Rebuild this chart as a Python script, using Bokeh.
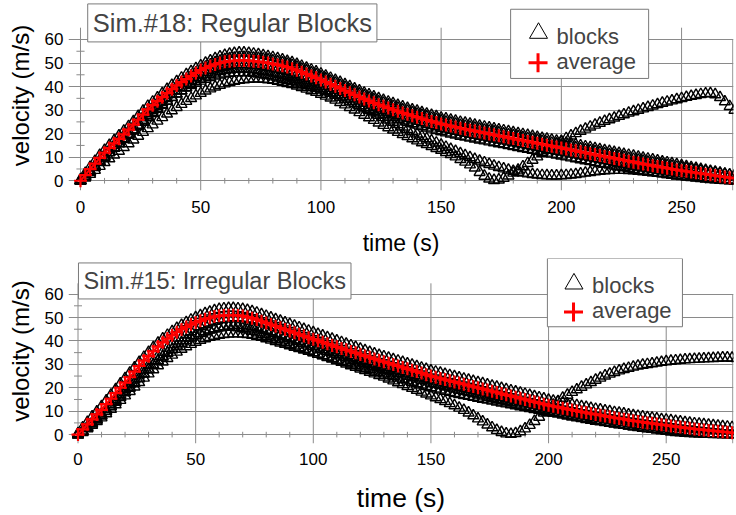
from bokeh.plotting import figure
from bokeh.layouts import column
from bokeh.models import Range1d, FixedTicker, Label, BoxAnnotation
from bokeh.embed import file_html
from bokeh.resources import INLINE

FONT = "Liberation Sans"
GRID = "#8a8a8a"

# ---------------- data: top panel (Sim.#18, regular blocks) ----------------
t_top = list(range(0, 273, 2))

avg_top = [
    0, 2.4, 4.9, 7.3, 9.7, 11.9, 13.9, 15.9, 17.8, 19.7,
    21.7, 23.8, 25.9, 28.1, 30.3, 32.1, 33.8, 35.5, 37.2, 38.9,
    40.5, 41.9, 43.2, 44.5, 45.8, 47.0, 47.9, 48.7, 49.4, 50.0,
    50.5, 50.8, 51.0, 51.1, 51.1, 51.0, 50.8, 50.6, 50.3, 50.0,
    49.6, 49.2, 48.8, 48.3, 47.6, 46.9, 46.1, 45.3, 44.5, 43.7,
    42.8, 41.9, 41.0, 40.1, 39.2, 38.3, 37.4, 36.5, 35.6, 34.7,
    33.9, 33.1, 32.3, 31.6, 30.9, 30.2, 29.5, 28.8, 28.2, 27.6,
    27.0, 26.4, 25.8, 25.2, 24.7, 24.1, 23.7, 23.2, 22.8, 22.3,
    21.9, 21.5, 21.1, 20.7, 20.3, 19.9, 19.5, 19.1, 18.7, 18.3,
    17.9, 17.5, 17.1, 16.7, 16.3, 15.9, 15.5, 15.1, 14.7, 14.3,
    13.9, 13.5, 13.1, 12.7, 12.3, 11.9, 11.5, 11.1, 10.7, 10.3,
    9.9, 9.5, 9.1, 8.7, 8.3, 7.9, 7.5, 7.1, 6.8, 6.4,
    6.0, 5.7, 5.3, 5.0, 4.6, 4.3, 4.0, 3.7, 3.4, 3.1,
    2.8, 2.5, 2.2, 1.9, 1.6, 1.3, 1.0]

blk_top_u = [
    0.5, 3.2, 5.8, 8.3, 10.8, 13.0, 15.1, 17.1, 19.1, 21.1,
    23.1, 25.2, 27.4, 29.6, 31.7, 33.5, 35.3, 37.1, 38.9, 40.6,
    42.2, 43.7, 45.1, 46.4, 47.7, 48.9, 50.0, 51.0, 51.9, 52.7,
    53.3, 53.8, 54.2, 54.4, 54.4, 54.2, 53.9, 53.6, 53.2, 52.8,
    52.4, 51.9, 51.4, 50.8, 50.2, 49.5, 48.7, 47.9, 47.1, 46.3,
    45.4, 44.5, 43.6, 42.7, 41.8, 40.9, 40.0, 39.1, 38.2, 37.3,
    36.5, 35.7, 34.9, 34.2, 33.5, 32.8, 32.1, 31.4, 30.8, 30.2,
    29.6, 29.0, 28.4, 27.8, 27.3, 26.7, 26.3, 25.8, 25.4, 24.9,
    24.5, 24.1, 23.7, 23.3, 22.9, 22.5, 22.1, 21.7, 21.3, 20.9,
    20.5, 20.1, 19.7, 19.3, 18.9, 18.5, 18.1, 17.7, 17.3, 16.9,
    16.5, 16.1, 15.7, 15.3, 14.9, 14.5, 14.1, 13.7, 13.3, 12.9,
    12.5, 12.1, 11.7, 11.3, 10.9, 10.5, 10.1, 9.7, 9.3, 8.9,
    8.5, 8.1, 7.7, 7.3, 6.9, 6.5, 6.1, 5.7, 5.3, 4.9,
    4.5, 4.1, 3.7, 3.3, 2.9, 2.5, 2.1]

blk_top_m = [
    0, 2.0, 4.2, 6.5, 8.8, 11.0, 13.1, 15.1, 17.1, 19.1,
    21.0, 23.0, 25.0, 27.0, 29.0, 31.0, 32.9, 34.7, 36.5, 38.3,
    40.0, 41.6, 43.1, 44.5, 45.9, 47.2, 48.3, 49.3, 50.2, 50.9,
    51.5, 51.9, 52.2, 52.4, 52.5, 52.4, 52.2, 52.0, 51.7, 51.4,
    51.0, 50.6, 50.1, 49.6, 49.0, 48.3, 47.5, 46.7, 45.9, 45.1,
    44.2, 43.3, 42.4, 41.5, 40.6, 39.7, 38.8, 37.9, 37.0, 36.1,
    35.3, 34.5, 33.7, 33.0, 32.3, 31.6, 30.9, 30.2, 29.6, 29.0,
    28.4, 27.8, 27.2, 26.6, 26.1, 25.5, 25.0, 24.5, 24.1, 23.6,
    23.2, 22.8, 22.4, 22.0, 21.6, 21.2, 20.8, 20.4, 20.0, 19.6,
    19.2, 18.8, 18.4, 18.0, 17.6, 17.2, 16.8, 16.4, 16.0, 15.6,
    15.2, 14.8, 14.4, 14.0, 13.6, 13.2, 12.8, 12.4, 12.0, 11.6,
    11.2, 10.8, 10.4, 10.0, 9.6, 9.2, 8.8, 8.4, 8.0, 7.6,
    7.2, 6.9, 6.5, 6.2, 5.8, 5.5, 5.2, 4.9, 4.6, 4.3,
    4.0, 3.7, 3.4, 3.1, 2.8, 2.5, 2.2]

blk_top_n = [
    0, 1.6, 3.6, 5.7, 7.9, 10.0, 12.0, 14.0, 15.9, 17.8,
    19.7, 21.7, 23.7, 25.8, 27.9, 29.8, 31.6, 33.3, 35.0, 36.7,
    38.3, 39.8, 41.2, 42.5, 43.8, 45.0, 46.0, 46.9, 47.6, 48.2,
    48.7, 49.1, 49.3, 49.4, 49.4, 49.3, 49.1, 48.9, 48.6, 48.3,
    47.9, 47.5, 47.0, 46.5, 45.9, 45.2, 44.4, 43.6, 42.8, 42.0,
    41.1, 40.2, 39.3, 38.4, 37.5, 36.6, 35.7, 34.8, 33.9, 33.0,
    32.2, 31.4, 30.6, 29.9, 29.2, 28.5, 27.8, 27.1, 26.5, 25.9,
    25.3, 24.7, 24.1, 23.5, 23.0, 22.4, 22.0, 21.5, 21.1, 20.6,
    20.2, 19.8, 19.4, 19.0, 18.6, 18.2, 17.8, 17.4, 17.0, 16.6,
    16.2, 15.8, 15.4, 15.0, 14.6, 14.2, 13.8, 13.4, 13.0, 12.6,
    12.3, 11.9, 11.5, 11.1, 10.7, 10.3, 9.9, 9.5, 9.1, 8.7,
    8.3, 7.9, 7.5, 7.1, 6.7, 6.3, 5.9, 5.5, 5.2, 4.8,
    4.5, 4.2, 3.8, 3.5, 3.2, 2.9, 2.6, 2.3, 2.0, 1.8,
    1.5, 1.3, 1.0, 0.8, 0.6, 0.4, 0.2]

blk_top_l = [
    0, 1.8, 3.9, 6.0, 8.1, 10.1, 12.0, 13.9, 15.8, 17.6,
    19.4, 21.2, 23.0, 24.9, 26.8, 28.6, 30.4, 32.1, 33.8, 35.4,
    36.9, 38.3, 39.6, 40.9, 42.1, 43.2, 44.2, 45.1, 45.8, 46.4,
    46.9, 47.2, 47.4, 47.5, 47.5, 47.4, 47.2, 46.9, 46.6, 46.3,
    45.9, 45.4, 44.9, 44.4, 43.8, 43.1, 42.4, 41.6, 40.8, 40.0,
    39.2, 38.3, 37.4, 36.5, 35.6, 34.7, 33.8, 32.9, 32.0, 31.2,
    30.4, 29.6, 28.9, 28.2, 27.5, 26.8, 26.1, 25.5, 24.9, 24.3,
    23.7, 23.1, 22.5, 22.0, 21.4, 20.9, 20.4, 19.9, 19.5, 19.0,
    18.6, 18.2, 17.8, 17.4, 17.0, 16.6, 16.2, 15.8, 15.4, 15.0,
    14.6, 14.2, 13.8, 13.4, 13.0, 12.6, 12.2, 11.8, 11.4, 11.0,
    10.6, 10.2, 9.8, 9.4, 9.0, 8.6, 8.2, 7.8, 7.4, 7.1,
    6.7, 6.3, 5.9, 5.6, 5.2, 4.9, 4.5, 4.2, 3.9, 3.6,
    3.3, 3.0, 2.7, 2.4, 2.1, 1.9, 1.6, 1.4, 1.2, 1.0,
    0.8, 0.6, 0.5, 0.3, 0.2, 0.1, 0.0]

blk_top_d1 = [
    0, 1.2, 2.8, 4.5, 6.2, 7.8, 9.4, 11.0, 12.6, 14.2,
    15.8, 17.4, 19.0, 20.6, 22.2, 23.8, 25.4, 26.9, 28.4, 29.8,
    31.2, 32.5, 33.8, 35.0, 36.1, 37.2, 38.2, 39.1, 39.9, 40.6,
    41.2, 41.8, 42.3, 42.7, 43.0, 43.2, 43.3, 43.3, 43.2, 43.0,
    42.7, 42.3, 41.9, 41.4, 40.9, 40.3, 39.7, 39.0, 38.3, 37.6,
    36.8, 36.0, 35.2, 34.3, 33.3, 32.3, 31.2, 30.1, 29.0, 27.9,
    26.8, 25.7, 24.6, 23.6, 22.6, 21.6, 20.6, 19.7, 18.8, 17.9,
    17.0, 16.2, 15.4, 14.6, 13.8, 13.0, 12.1, 11.2, 10.2, 9.1,
    8.0, 6.8, 5.5, 3.6, 2.0, 0.8, 0.2, 0.4, 1.1, 2.1,
    3.3, 4.6, 6.0, 7.4, 8.8, 10.2, 11.6, 13.0, 14.3, 15.6,
    16.8, 18.0, 19.1, 20.1, 21.1, 22.0, 22.9, 23.7, 24.5, 25.3,
    26.0, 26.7, 27.4, 28.1, 28.8, 29.4, 30.0, 30.6, 31.2, 31.8,
    32.4, 33.0, 33.5, 34.0, 34.5, 35.0, 35.5, 35.9, 36.3, 36.7,
    37.0, 37.1, 36.6, 35.4, 33.6, 31.6, 30.0]

blk_top_d2 = [
    0, 2.0, 4.0, 6.1, 8.2, 10.2, 12.1, 14.0, 15.9, 17.8,
    19.7, 21.6, 23.5, 25.4, 27.2, 29.0, 30.7, 32.4, 34.0, 35.5,
    36.9, 38.2, 39.4, 40.5, 41.5, 42.4, 43.2, 43.9, 44.5, 45.0,
    45.4, 45.7, 45.9, 46.0, 46.0, 45.9, 45.7, 45.4, 45.1, 44.7,
    44.2, 43.7, 43.2, 42.7, 42.2, 41.6, 41.0, 40.4, 39.8, 39.2,
    38.6, 37.9, 37.2, 36.4, 35.6, 34.7, 33.8, 32.9, 31.9, 30.9,
    29.9, 28.9, 27.9, 26.9, 25.9, 24.9, 23.9, 22.9, 21.9, 20.9,
    19.9, 18.9, 17.9, 17.0, 16.1, 15.2, 14.3, 13.4, 12.5, 11.6,
    10.7, 9.9, 9.1, 8.4, 7.7, 7.0, 6.3, 5.7, 5.1, 4.6,
    4.1, 3.7, 3.3, 3.0, 2.7, 2.5, 2.3, 2.2, 2.1, 2.1,
    2.2, 2.3, 2.5, 2.7, 3.0, 3.3, 3.6, 3.9, 4.1, 4.3,
    4.4, 4.5, 4.5, 4.5, 4.4, 4.3, 4.1, 3.9, 3.7, 3.5,
    3.2, 3.0, 2.7, 2.5, 2.2, 2.0, 1.8, 1.6, 1.4, 1.2,
    1.0, 0.8, 0.6, 0.5, 0.3, 0.2, 0.1]

# ---------------- data: bottom panel (Sim.#15, irregular blocks) ----------------
t_bot = list(range(0, 281, 2))

avg_bot = [
    0, 2.2, 4.4, 6.5, 8.6, 10.6, 13.0, 15.3, 17.7, 20.0,
    22.2, 24.5, 26.9, 29.3, 31.6, 33.5, 35.6, 37.6, 39.4, 41.0,
    42.4, 43.7, 44.9, 46.0, 47.0, 47.9, 48.6, 49.3, 49.9, 50.4,
    50.7, 50.9, 51.0, 51.0, 50.9, 50.6, 50.2, 49.7, 49.1, 48.4,
    47.7, 47.0, 46.3, 45.6, 44.9, 44.2, 43.5, 42.8, 42.1, 41.4,
    40.7, 40.1, 39.4, 38.8, 38.1, 37.5, 36.8, 36.2, 35.5, 34.9,
    34.2, 33.6, 33.0, 32.3, 31.7, 31.1, 30.5, 29.9, 29.3, 28.7,
    28.1, 27.5, 26.9, 26.3, 25.6, 25.0, 24.5, 24.0, 23.5, 23.0,
    22.5, 22.0, 21.5, 21.0, 20.5, 20.0, 19.5, 19.0, 18.5, 18.0,
    17.5, 17.0, 16.5, 16.0, 15.5, 15.0, 14.5, 14.0, 13.5, 13.0,
    12.5, 12.1, 11.7, 11.3, 10.9, 10.5, 10.1, 9.7, 9.4, 9.0,
    8.6, 8.3, 7.9, 7.6, 7.2, 6.9, 6.6, 6.2, 5.9, 5.6,
    5.3, 5.0, 4.8, 4.5, 4.2, 4.0, 3.7, 3.4, 3.2, 2.9,
    2.7, 2.4, 2.2, 2.0, 1.8, 1.6, 1.4, 1.2, 1.0, 0.8,
    0.6]

blk_bot_u = [
    0.5, 3.0, 5.3, 7.6, 9.8, 12.0, 14.5, 16.9, 19.3, 21.7,
    24.0, 26.3, 28.6, 30.9, 33.1, 35.2, 37.2, 39.1, 40.9, 42.5,
    44.0, 45.4, 46.7, 47.9, 49.0, 50.0, 50.9, 51.7, 52.4, 53.0,
    53.5, 53.8, 54.0, 54.0, 53.8, 53.5, 53.1, 52.6, 52.0, 51.3,
    50.6, 49.9, 49.2, 48.5, 47.8, 47.1, 46.4, 45.7, 45.0, 44.3,
    43.6, 42.9, 42.2, 41.5, 40.8, 40.1, 39.4, 38.7, 38.0, 37.3,
    36.6, 35.9, 35.2, 34.5, 33.9, 33.3, 32.7, 32.1, 31.5, 30.9,
    30.3, 29.7, 29.1, 28.5, 27.9, 27.3, 26.8, 26.3, 25.8, 25.3,
    24.8, 24.3, 23.8, 23.3, 22.8, 22.3, 21.8, 21.3, 20.8, 20.3,
    19.8, 19.3, 18.8, 18.3, 17.8, 17.3, 16.8, 16.3, 15.8, 15.3,
    14.8, 14.4, 14.0, 13.6, 13.2, 12.8, 12.4, 12.0, 11.7, 11.3,
    10.9, 10.6, 10.2, 9.9, 9.5, 9.2, 8.9, 8.5, 8.2, 7.9,
    7.6, 7.3, 7.1, 6.8, 6.5, 6.3, 6.0, 5.7, 5.5, 5.2,
    5.0, 4.7, 4.5, 4.3, 4.1, 3.9, 3.7, 3.5, 3.3, 3.1,
    2.9]

blk_bot_m = [
    0, 1.6, 3.4, 5.2, 7.0, 8.8, 10.8, 12.9, 15.0, 17.1,
    19.2, 21.3, 23.4, 25.5, 27.6, 29.6, 31.6, 33.5, 35.3, 37.0,
    38.6, 40.1, 41.5, 42.8, 44.0, 45.1, 46.1, 47.0, 47.8, 48.5,
    49.1, 49.5, 49.8, 50.0, 50.0, 49.8, 49.5, 49.1, 48.6, 48.0,
    47.3, 46.6, 45.8, 45.0, 44.2, 43.4, 42.6, 41.8, 41.0, 40.2,
    39.4, 38.7, 38.0, 37.3, 36.6, 35.9, 35.2, 34.5, 33.8, 33.1,
    32.4, 31.8, 31.2, 30.6, 30.0, 29.4, 28.8, 28.2, 27.6, 27.0,
    26.4, 25.8, 25.2, 24.6, 24.0, 23.5, 23.0, 22.5, 22.0, 21.5,
    21.0, 20.5, 20.0, 19.5, 19.0, 18.5, 18.0, 17.5, 17.0, 16.5,
    16.0, 15.5, 15.0, 14.5, 14.0, 13.5, 13.0, 12.5, 12.0, 11.5,
    11.0, 10.6, 10.2, 9.8, 9.4, 9.0, 8.6, 8.2, 7.9, 7.5,
    7.1, 6.8, 6.4, 6.1, 5.7, 5.4, 5.1, 4.7, 4.4, 4.1,
    3.8, 3.5, 3.3, 3.0, 2.7, 2.5, 2.2, 1.9, 1.7, 1.4,
    1.2, 1.0, 0.8, 0.7, 0.5, 0.4, 0.3, 0.2, 0.1, 0.0,
    0.0]

blk_bot_n = [
    0, 1.3, 2.9, 4.6, 6.3, 8.0, 9.9, 11.9, 13.9, 15.9,
    17.9, 19.9, 21.9, 23.9, 25.9, 27.8, 29.7, 31.5, 33.2, 34.8,
    36.3, 37.7, 39.0, 40.2, 41.3, 42.3, 43.2, 44.0, 44.7, 45.3,
    45.8, 46.2, 46.5, 46.7, 46.7, 46.6, 46.4, 46.1, 45.7, 45.2,
    44.6, 44.0, 43.3, 42.6, 41.9, 41.2, 40.5, 39.8, 39.1, 38.4,
    37.7, 37.0, 36.3, 35.7, 35.0, 34.4, 33.7, 33.1, 32.4, 31.8,
    31.1, 30.5, 29.9, 29.2, 28.6, 28.0, 27.4, 26.8, 26.2, 25.6,
    25.0, 24.4, 23.8, 23.2, 22.6, 22.0, 21.5, 21.0, 20.5, 20.0,
    19.5, 19.0, 18.5, 18.0, 17.5, 17.0, 16.5, 16.0, 15.5, 15.0,
    14.7, 14.2, 13.7, 13.2, 12.7, 12.2, 11.7, 11.2, 10.8, 10.4,
    10.0, 9.6, 9.2, 8.8, 8.4, 8.0, 7.6, 7.2, 6.9, 6.5,
    6.1, 5.8, 5.4, 5.1, 4.7, 4.4, 4.1, 3.7, 3.4, 3.1,
    2.8, 2.5, 2.3, 2.0, 1.7, 1.5, 1.2, 1.0, 0.8, 0.6,
    0.5, 0.4, 0.3, 0.2, 0.2, 0.1, 0.1, 0.0, 0.0, 0.0,
    0.0]

blk_bot_l = [
    0, 1.0, 2.5, 4.0, 5.6, 7.2, 9.0, 10.9, 12.8, 14.7,
    16.6, 18.5, 20.4, 22.3, 24.2, 26.0, 27.8, 29.5, 31.1, 32.6,
    34.0, 35.3, 36.5, 37.6, 38.6, 39.5, 40.3, 41.0, 41.6, 42.1,
    42.5, 42.8, 43.0, 43.1, 43.1, 43.0, 42.8, 42.5, 42.1, 41.6,
    41.0, 40.4, 39.8, 39.2, 38.6, 38.0, 37.4, 36.8, 36.2, 35.6,
    35.0, 34.4, 33.8, 33.2, 32.6, 32.0, 31.4, 30.8, 30.2, 29.6,
    29.0, 28.4, 27.8, 27.2, 26.6, 26.0, 25.4, 24.8, 24.2, 23.6,
    23.0, 22.4, 21.8, 21.2, 20.6, 20.1, 19.6, 19.1, 18.6, 18.1,
    17.6, 17.2, 16.8, 16.4, 16.0, 15.6, 15.2, 14.8, 14.4, 14.0,
    13.6, 13.2, 12.8, 12.4, 12.0, 11.6, 11.2, 10.8, 10.4, 10.0,
    9.6, 9.2, 8.8, 8.4, 8.0, 7.6, 7.2, 6.9, 6.5, 6.2,
    5.8, 5.5, 5.2, 4.9, 4.6, 4.3, 4.0, 3.7, 3.4, 3.2,
    2.9, 2.7, 2.4, 2.2, 2.0, 1.8, 1.6, 1.4, 1.2, 1.1,
    0.9, 0.8, 0.7, 0.6, 0.5, 0.4, 0.3, 0.2, 0.2, 0.1,
    0.1]

blk_bot_d = [
    0, 1.4, 3.0, 4.7, 6.4, 8.2, 10.1, 12.1, 14.1, 16.1,
    18.1, 20.1, 22.1, 24.1, 26.1, 28.0, 29.8, 31.6, 33.3, 34.9,
    36.4, 37.8, 39.1, 40.3, 41.4, 42.4, 43.3, 44.1, 44.8, 45.3,
    45.7, 45.9, 46.0, 45.9, 45.7, 45.3, 44.8, 44.2, 43.5, 42.8,
    42.1, 41.4, 40.7, 40.0, 39.3, 38.6, 37.9, 37.2, 36.5, 35.8,
    35.1, 34.4, 33.7, 33.0, 32.3, 31.6, 30.9, 30.2, 29.5, 28.8,
    28.1, 27.4, 26.7, 26.0, 25.3, 24.6, 23.8, 23.0, 22.2, 21.4,
    20.6, 19.8, 19.0, 18.2, 17.4, 16.6, 15.8, 15.0, 14.2, 13.3,
    12.4, 11.4, 10.4, 9.3, 8.1, 6.8, 5.5, 4.2, 3.0, 1.9,
    1.0, 0.4, 0.2, 0.5, 1.3, 2.5, 4.0, 5.7, 7.5, 9.3,
    11.1, 12.7, 14.2, 15.6, 16.9, 18.1, 19.2, 20.3, 21.3, 22.3,
    23.3, 24.2, 25.1, 25.9, 26.6, 27.3, 27.9, 28.4, 28.9, 29.3,
    29.7, 30.0, 30.3, 30.6, 30.9, 31.2, 31.4, 31.6, 31.8, 32.0,
    32.1, 32.2, 32.3, 32.4, 32.5, 32.6, 32.7, 32.8, 32.8, 32.7,
    32.5]

x_ticks = [0, 50, 100, 150, 200, 250]
y_ticks = [0, 10, 20, 30, 40, 50, 60]
x_minor = [10, 20, 30, 40, 60, 70, 80, 90, 110, 120, 130, 140, 160, 170, 180, 190,
           210, 220, 230, 240, 260, 270]
y_minor = [5, 15, 25, 35, 45, 55]

blocks_top = [blk_top_u, blk_top_m, blk_top_n, blk_top_l, blk_top_d1, blk_top_d2]
blocks_bot = [blk_bot_u, blk_bot_m, blk_bot_n, blk_bot_l, blk_bot_d]

for s in blocks_top + [avg_top]:
    assert len(s) == len(t_top), len(s)
for s in blocks_bot + [avg_bot]:
    assert len(s) == len(t_bot), len(s)


def make_panel(t, avg, blocks, cfg):
    x0, x1 = cfg["xr"]
    y0, y1 = cfg["yr"]
    p = figure(width=736, height=cfg["h"], x_range=Range1d(x0, x1), y_range=Range1d(y0, y1),
               output_backend="svg", toolbar_location=None,
               min_border_left=68, min_border_right=3, min_border_top=0,
               min_border_bottom=cfg["mb"])
    p.outline_line_color = None
    p.background_fill_color = "white"
    p.border_fill_color = "white"

    p.xgrid.visible = False
    p.ygrid.ticker = FixedTicker(ticks=y_ticks)
    p.ygrid.grid_line_color = GRID
    p.ygrid.grid_line_width = 1

    # vertical grid lines / y axis line, right border, minor ticks at the zero lines
    n = len(x_ticks)
    p.segment(x0=x_ticks, y0=[y0] * n, x1=x_ticks, y1=[cfg["gtop"]] * n,
              line_color=GRID, line_width=1, level="underlay")
    p.segment(x0=[x1 - 0.3], y0=[y0], x1=[x1 - 0.3], y1=[60],
              line_color=GRID, line_width=1, level="underlay")
    p.segment(x0=x_minor, y0=[-1.2] * len(x_minor), x1=x_minor, y1=[1.2] * len(x_minor),
              line_color=GRID, line_width=1, level="underlay")
    p.segment(x0=[-1.7] * len(y_minor), y0=y_minor, x1=[1.7] * len(y_minor), y1=y_minor,
              line_color=GRID, line_width=1, level="underlay")

    for b in blocks:
        p.scatter(t, b, marker="triangle", size=11, fill_color=None,
                  line_color="black", line_width=1.4)
    p.line(t, avg, line_color="red", line_width=2)
    p.scatter(t, avg, marker="cross", size=13, line_color="red", line_width=2.2)

    for ax, ticks in ((p.xaxis, x_ticks), (p.yaxis, y_ticks)):
        ax.ticker = FixedTicker(ticks=ticks)
        ax.axis_line_color = None
        ax.major_tick_line_color = None
        ax.minor_tick_line_color = None
        ax.major_tick_in = 0
        ax.major_tick_out = 0
        ax.minor_tick_in = 0
        ax.minor_tick_out = 0
        ax.major_label_text_font = FONT
        ax.major_label_text_font_size = "17px"
        ax.major_label_text_color = "black"
        ax.axis_label_text_font = FONT
        ax.axis_label_text_font_style = "normal"
        ax.axis_label_text_color = "black"
    p.xaxis.axis_label = "time (s)"
    p.xaxis.axis_label_text_font_size = cfg["xlab_fs"]
    p.xaxis.major_label_standoff = cfg["xstand"]
    p.xaxis.axis_label_standoff = cfg["xlab_stand"]
    p.yaxis.axis_label = "velocity (m/s)"
    p.yaxis.axis_label_text_font_size = "24px"
    p.yaxis.major_label_standoff = 5
    p.yaxis.axis_label_standoff = 8

    # title box
    p.add_layout(Label(x=cfg["title_xy"][0], y=cfg["title_xy"][1], text=cfg["title"],
                       text_font=FONT, text_font_size=cfg["title_fs"],
                       text_align="left", text_baseline="top",
                       background_fill_color="white", border_line_color="#7a7a7a",
                       border_line_width=1, padding=5))

    # legend box
    lb = cfg["leg_box"]
    p.add_layout(BoxAnnotation(left=lb[0], right=lb[1], bottom=lb[2], top=lb[3],
                               fill_color="white", fill_alpha=1.0,
                               line_color="#7a7a7a", line_width=1, line_alpha=1.0))
    (tx, ty), (cx, cy) = cfg["leg_tri"], cfg["leg_cross"]
    p.scatter([tx], [ty], marker="triangle", size=18, fill_color=None,
              line_color="black", line_width=1, level="overlay")
    p.scatter([cx], [cy], marker="cross", size=19, line_color="red",
              line_width=3, level="overlay")
    for (lx, ly), txt in ((cfg["leg_t1"], "blocks"), (cfg["leg_t2"], "average")):
        p.add_layout(Label(x=lx, y=ly, text=txt, text_font=FONT, text_font_size="22px",
                           text_align="left", text_baseline="middle", level="overlay"))
    return p


cfg_top = dict(
    h=258, mb=63, xr=(-4.99, 271.6), yr=(-4.14, 76.55), gtop=65.0,
    xlab_fs="23px", xstand=10, xlab_stand=14,
    title="Sim.#18: Regular Blocks", title_fs="25.5px", title_xy=(3.0, 75.1),
    leg_box=(178.9, 236.3, 43.45, 72.83),
    leg_tri=(190.5, 62.7), leg_cross=(190.3, 50.1),
    leg_t1=(198.0, 61.4), leg_t2=(198.0, 50.6),
)
cfg_bot = dict(
    h=257, mb=70, xr=(-4.04, 278.6), yr=(-3.8, 75.2), gtop=64.6,
    xlab_fs="26.5px", xstand=9, xlab_stand=15,
    title="Sim.#15: Irregular Blocks", title_fs="23.5px", title_xy=(0.2, 73.3),
    leg_box=(199.5, 256.9, 46.05, 75.2),
    leg_tri=(210.8, 64.4), leg_cross=(210.6, 52.4),
    leg_t1=(218.5, 63.6), leg_t2=(218.5, 53.0),
)

p1 = make_panel(t_top, avg_top, blocks_top, cfg_top)
p2 = make_panel(t_bot, avg_bot, blocks_bot, cfg_bot)

layout = column(p1, p2)
open("out.html", "w").write(file_html(layout, INLINE))
